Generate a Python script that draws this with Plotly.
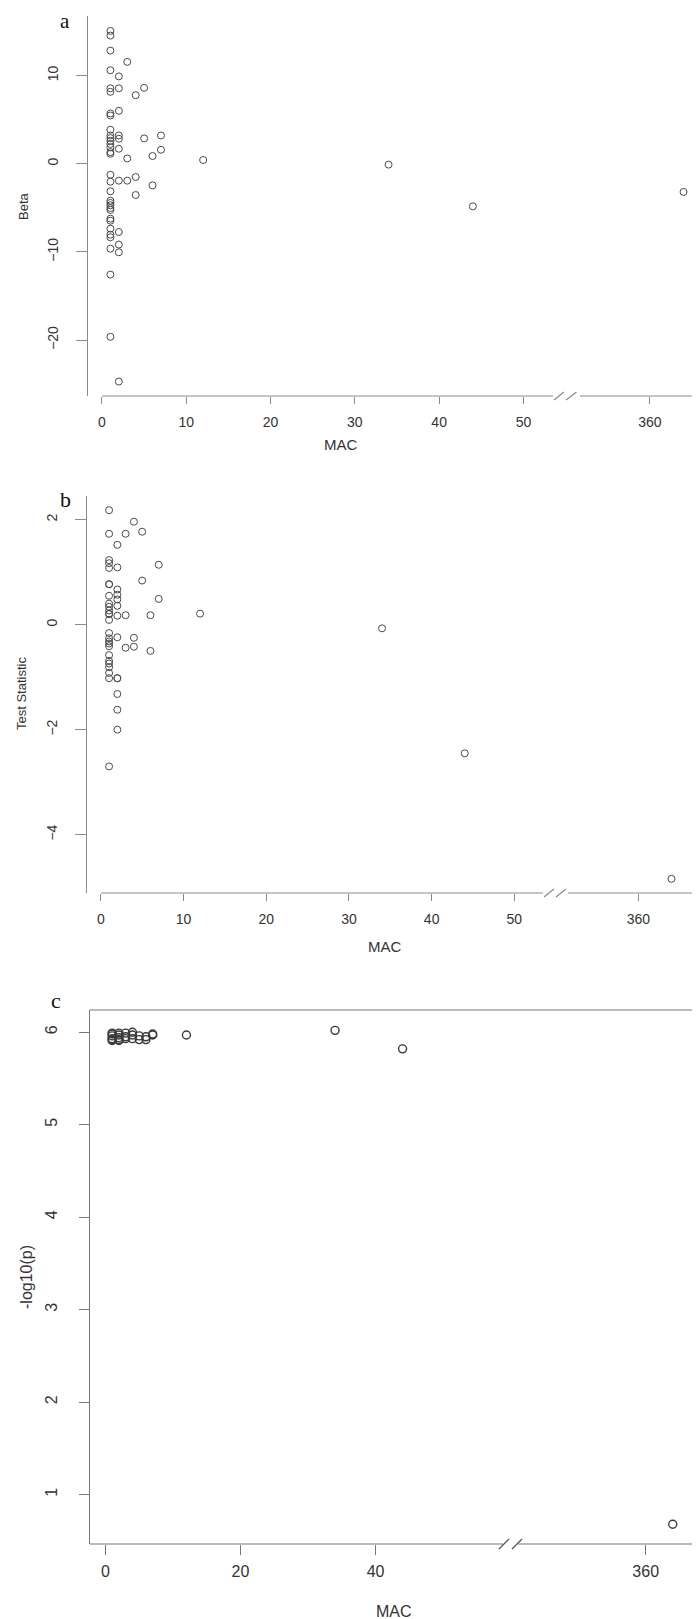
import plotly.graph_objects as go

W, H = 700, 1619

# ---- panel a: effect size (Beta) per variant ----
mac_a = [
    1, 1, 1, 1, 1, 1, 1, 1, 1, 1, 1, 1, 1, 1, 1, 1,
    1, 1, 1, 1, 1, 1, 1, 1, 1, 1, 1, 1, 1, 1, 1, 1,
    2, 2, 2, 2, 2, 2, 2, 2, 2, 2, 2,
    3, 3, 3, 4, 4, 4, 5, 5, 6, 6, 7, 7,
    12, 34, 44, 364,
]
beta_a = [
    15.06, 14.53, 12.83, 10.6, 8.55, 8.15, 5.7, 5.47, 3.85, 3.2, 2.9, 2.6, 2.24, 1.85, 1.32, 1.13,
    -1.25, -2.04, -3.13, -4.19, -4.45, -4.71, -5.02, -5.24, -6.23, -6.46, -7.36, -8.04, -8.34, -9.63, -12.57, -19.63,
    9.9, 8.55, 6.0, 3.2, 2.83, 1.7, -1.92, -7.74, -9.17, -10.04, -24.7,
    11.55, 0.6, -1.92, 7.77, -1.51, -3.55, 8.6, 2.87, 0.87, -2.45, 3.2, 1.58,
    0.42, -0.1, -4.83, -3.2,
]

# ---- panel b: test statistic per variant ----
mac_b = [
    1, 1, 1, 1, 1, 1, 1, 1, 1, 1, 1, 1, 1,
    1, 1, 1, 1, 1, 1, 1, 1, 1, 1, 1, 1, 1,
    2, 2, 2, 2, 2, 2, 2, 2, 2, 2, 2, 2, 2,
    3, 3, 3, 4, 4, 4, 5, 5, 6, 6, 7, 7,
    12, 34, 44, 364,
]
stat_b = [
    2.18, 1.73, 1.23, 1.17, 1.08, 0.77, 0.77, 0.55, 0.40, 0.34, 0.27, 0.21, 0.20,
    0.09, -0.16, -0.26, -0.32, -0.36, -0.41, -0.58, -0.69, -0.74, -0.81, -0.92, -1.02, -2.70,
    1.52, 1.09, 0.67, 0.57, 0.48, 0.36, 0.17, -0.24, -1.02, -1.02, -1.32, -1.62, -2.0,
    1.73, 0.18, -0.44, 1.96, -0.25, -0.42, 1.77, 0.84, 0.18, -0.50, 1.14, 0.49,
    0.21, -0.07, -2.45, -4.84,
]

# ---- panel c: -log10(p) per variant ----
mac_c = [
    1, 1, 1, 1, 1, 1, 2, 2, 2, 2, 2,
    3, 3, 3, 4, 4, 4, 5, 5, 6, 6, 7, 7,
    12, 34, 44, 364,
]
logp_c = [
    5.99, 5.98, 5.96, 5.93, 5.92, 5.91, 5.99, 5.97, 5.94, 5.92, 5.91,
    5.99, 5.95, 5.93, 6.0, 5.97, 5.93, 5.96, 5.92, 5.95, 5.92, 5.98, 5.97,
    5.97, 6.02, 5.82, 0.68,
]

mac_ticks_ab = [0, 10, 20, 30, 40, 50, 360]
mac_ticks_c = [0, 20, 40, 360]
beta_ticks = [-20, -10, 0, 10]
stat_ticks = [-4, -2, 0, 2]
logp_ticks = [1, 2, 3, 4, 5, 6]

AXIS_GREY = "#8a8a8a"
TICK_FONT = dict(family="Liberation Sans, Arial", size=14, color="#333333")
SERIF = dict(family="Liberation Serif, Times New Roman", size=22, color="#111111")


def squeeze(values, cut, shift):
    """Collapse the empty stretch of the MAC axis (gap plot)."""
    return [v - shift if v > cut else v for v in values]


def px(x):
    return x / W


def py(y):
    return 1 - y / H


def hline(fig, x0, x1, y, color=AXIS_GREY, width=1.2):
    fig.add_shape(type="line", xref="paper", yref="paper",
                  x0=px(x0), x1=px(x1), y0=py(y), y1=py(y),
                  line=dict(color=color, width=width))


def slash(fig, x0, y0, x1, y1, color=AXIS_GREY):
    fig.add_shape(type="line", xref="paper", yref="paper",
                  x0=px(x0), x1=px(x1), y0=py(y0), y1=py(y1),
                  line=dict(color=color, width=1.2))


fig = go.Figure()

fig.add_trace(go.Scatter(
    x=squeeze(mac_a, 53, 295), y=beta_a, mode="markers", xaxis="x", yaxis="y",
    marker=dict(symbol="circle-open", size=7, color="#4a4a4a", line=dict(width=1)),
))
fig.add_trace(go.Scatter(
    x=squeeze(mac_b, 53, 295), y=stat_b, mode="markers", xaxis="x2", yaxis="y2",
    marker=dict(symbol="circle-open", size=7, color="#4a4a4a", line=dict(width=1)),
))
fig.add_trace(go.Scatter(
    x=squeeze(mac_c, 58, 280), y=logp_c, mode="markers", xaxis="x3", yaxis="y3",
    marker=dict(symbol="circle-open", size=8, color="#3a3a3a", line=dict(width=1.4)),
))

xcommon = dict(showgrid=False, zeroline=False, showline=False, ticks="outside",
               ticklen=7, tickwidth=1.2, tickcolor=AXIS_GREY, tickfont=TICK_FONT,
               ticklabelstandoff=6)
ycommon = dict(showgrid=False, zeroline=False, showline=True, linecolor=AXIS_GREY,
               linewidth=1.2, ticks="outside", ticklen=11, tickwidth=1.2,
               tickcolor=AXIS_GREY, tickfont=TICK_FONT, tickangle=-90,
               ticklabelstandoff=12)

fig.update_layout(
    width=W, height=H, margin=dict(l=0, r=0, t=0, b=0),
    paper_bgcolor="white", plot_bgcolor="white", showlegend=False,
    xaxis=dict(xcommon, domain=[px(80), px(700)], range=[-1.66, 71.9], anchor="y",
               tickvals=squeeze(mac_ticks_ab, 53, 295), ticktext=[str(t) for t in mac_ticks_ab]),
    yaxis=dict(ycommon, domain=[py(388), py(8)], range=[-26.34, 16.75], anchor="x",
               tickvals=beta_ticks),
    xaxis2=dict(xcommon, domain=[px(79), px(685)], range=[-1.67, 71.6], anchor="y2",
                tickvals=squeeze(mac_ticks_ab, 53, 295), ticktext=[str(t) for t in mac_ticks_ab]),
    yaxis2=dict(ycommon, domain=[py(885), py(488)], range=[-5.11, 2.45], anchor="x2",
                tickvals=stat_ticks),
    xaxis3=dict(xcommon, domain=[px(82), px(687)], range=[-2.28, 87.3], anchor="y3",
                tickvals=squeeze(mac_ticks_c, 58, 280), ticktext=[str(t) for t in mac_ticks_c],
                tickfont=dict(TICK_FONT, size=16), ticklen=10, tickcolor="#777777",
                ticklabelstandoff=3),
    yaxis3=dict(ycommon, domain=[py(1536), py(1002)], range=[0.467, 6.24], anchor="x3",
                tickvals=logp_ticks, mirror=True, linecolor="#777777", tickcolor="#777777",
                tickfont=dict(TICK_FONT, size=16), ticklen=10, ticklabelstandoff=16),
)

# broken x axes (a, b) with slash marks
hline(fig, 94, 545, 388)
hline(fig, 572, 700, 388)
slash(fig, 546, 392, 556, 384)
slash(fig, 558, 392, 568.5, 384)

hline(fig, 93, 535, 885)
hline(fig, 560, 685, 885)
slash(fig, 536, 889, 546, 881)
slash(fig, 548, 889, 558, 881)

# panel c box with break on the bottom edge
hline(fig, 82, 687, 1002, color="#777777")
hline(fig, 82, 495, 1536, color="#777777")
hline(fig, 510, 687, 1536, color="#777777")
slash(fig, 491, 1541, 501, 1531, color="#555555")
slash(fig, 504, 1541, 514, 1531, color="#555555")

labels = [
    ("a", 57, 13, dict(SERIF, size=21), 0),
    ("b", 57, 491, SERIF, 0),
    ("c", 48, 992, SERIF, 0),
    ("Beta", 15, 198, dict(TICK_FONT, size=13), -90),
    ("Test Statistic", 13, 686, dict(TICK_FONT, size=13), -90),
    ("-log10(p)", 18, 1269, dict(TICK_FONT, size=16), -90),
    ("MAC", 333, 436, dict(TICK_FONT, size=15), 0),
    ("MAC", 377, 938, dict(TICK_FONT, size=15), 0),
    ("MAC", 386, 1603, dict(TICK_FONT, size=16), 0),
]
for text, x, y, font, angle in labels:
    fig.add_annotation(text=text, x=px(x), y=py(y), xref="paper", yref="paper",
                       showarrow=False, font=font, textangle=angle, borderpad=0,
                       xanchor="center", yanchor="middle")

fig.write_html("out.html")
